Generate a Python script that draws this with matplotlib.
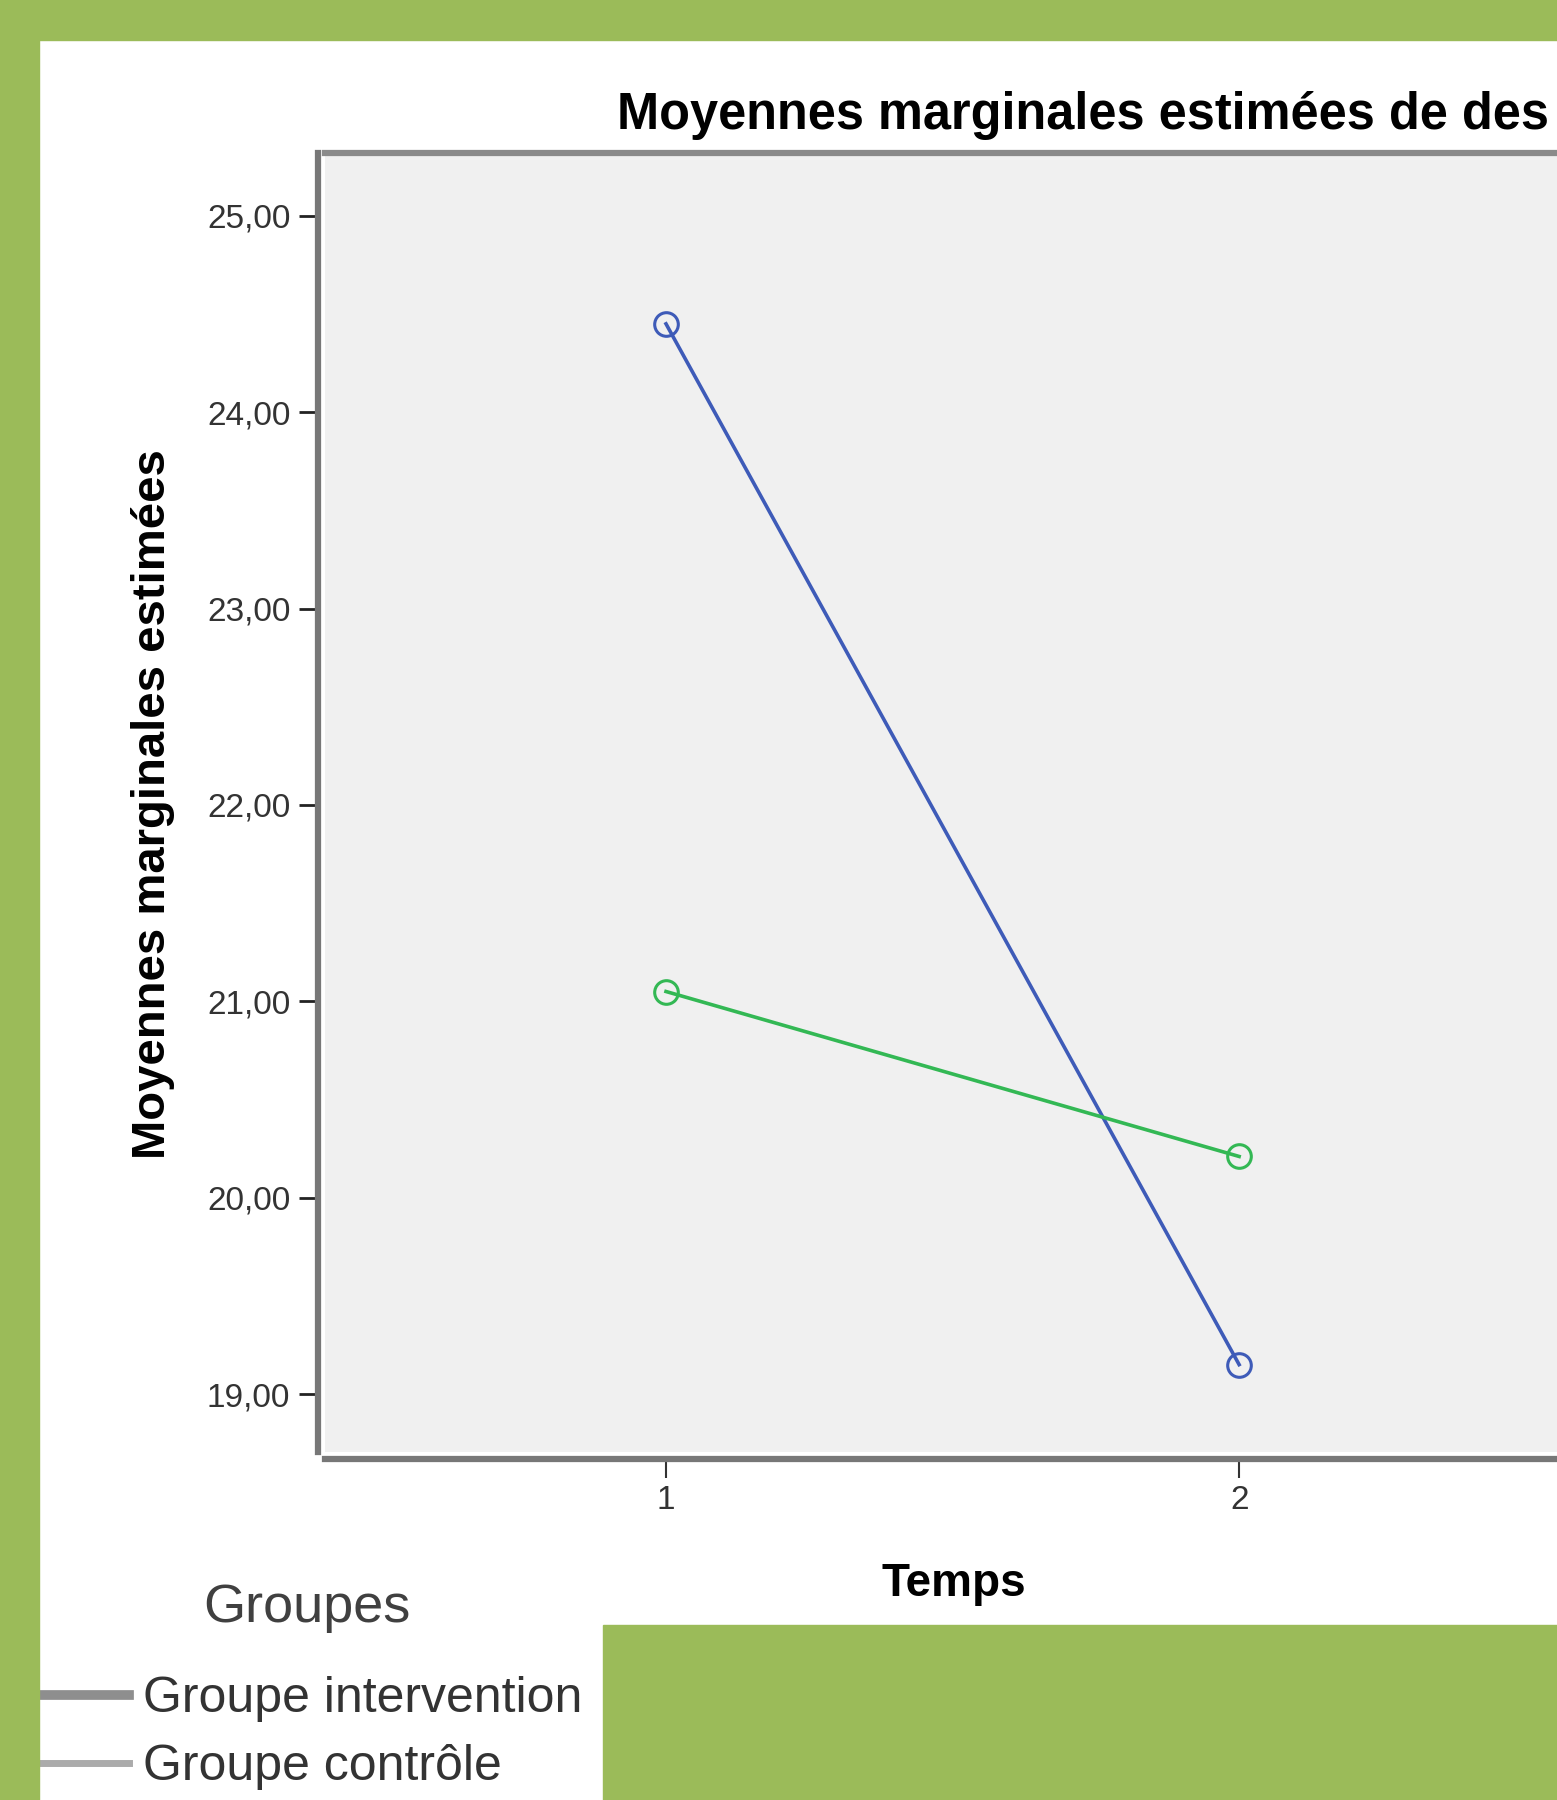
import matplotlib
matplotlib.use("Agg")
import matplotlib.pyplot as plt
from matplotlib.lines import Line2D
from matplotlib.patches import Rectangle
from matplotlib.ticker import FuncFormatter

plt.rcParams['font.family'] = ['Liberation Sans', 'DejaVu Sans']

temps = [1, 2]
groupes = ['Groupe intervention', 'Groupe contrôle']
moy_intervention = [24.45, 19.15]
moy_controle = [21.05, 20.21]
y_ticks = [19, 20, 21, 22, 23, 24, 25]

couleurs = ['#3e5bb8', '#33b854']
couleurs_legende = ['#8e8e8e', '#ababab']
VERT = '#9bbb59'

W, H = 1557, 1800
fig = plt.figure(figsize=(W / 100, H / 100), dpi=100)

# axes (face only; spines pushed outward to leave the small white gap)
ax = fig.add_axes([325 / W, 1 - 1452 / H, (1583 - 325) / W, (1452 - 153) / H])
ax.set_facecolor('#f0f0f0')

for serie, c in zip([moy_intervention, moy_controle], couleurs):
    ax.plot(temps, serie, color=c, lw=2.6, marker='o', ms=17,
            mfc='none', mec=c, mew=2.2)

ax.set_xlim(0.405, 2.6)
ax.set_ylim(18.705, 25.32)
ax.set_xticks(temps)
ax.set_yticks(y_ticks)
ax.yaxis.set_major_formatter(FuncFormatter(lambda v, p: ('%.2f' % v).replace('.', ',')))

for side in ['left', 'bottom']:
    ax.spines[side].set_position(('outward', 5))
    ax.spines[side].set_linewidth(4.5)
    ax.spines[side].set_color('#777777')
ax.spines['top'].set_linewidth(4.5)
ax.spines['top'].set_color('#8a8a8a')
ax.spines['right'].set_visible(False)

ax.tick_params(axis='y', length=14, width=2, color='#222222', pad=6,
               labelsize=24, labelcolor='#333333')
ax.tick_params(axis='x', length=14, width=1.5, color='#333333', pad=5,
               labelsize=24, labelcolor='#333333')

fig.text(617 / W, 1 - 129 / H, 'Moyennes marginales estimées de des',
         ha='left', va='baseline', fontsize=36.4, fontweight='bold')
fig.text(153 / W, 1 - 804 / H, 'Moyennes marginales estimées', rotation=90,
         ha='center', va='center', fontsize=34, fontweight='bold')
fig.text(954 / W, 1 - 1584 / H, 'Temps', ha='center', va='center',
         fontsize=33, fontweight='bold')

# legend
fig.text(203 / W, 1 - 1622 / H, 'Groupes', ha='left', va='baseline',
         fontsize=39, color='#404040')
handles = [Line2D([], [], color=couleurs_legende[0], lw=7),
           Line2D([], [], color=couleurs_legende[1], lw=5)]
fig.legend(handles, groupes, loc='upper left', bbox_to_anchor=(39 / W, 1 - 1676 / H),
           frameon=False, fontsize=36, handlelength=1.8, handletextpad=0.28,
           labelspacing=0.45, borderpad=0, borderaxespad=0, labelcolor='#333333')

# green frame of the slide
for x0, y0, w, h in [(0, 0, W, 40), (0, 0, 39, H), (603, 1625, W - 603, H - 1625)]:
    fig.add_artist(Rectangle((x0 / W, 1 - (y0 + h) / H), w / W, h / H,
                             transform=fig.transFigure, color=VERT, zorder=10))

fig.savefig('out.png', dpi=100, facecolor='white')
